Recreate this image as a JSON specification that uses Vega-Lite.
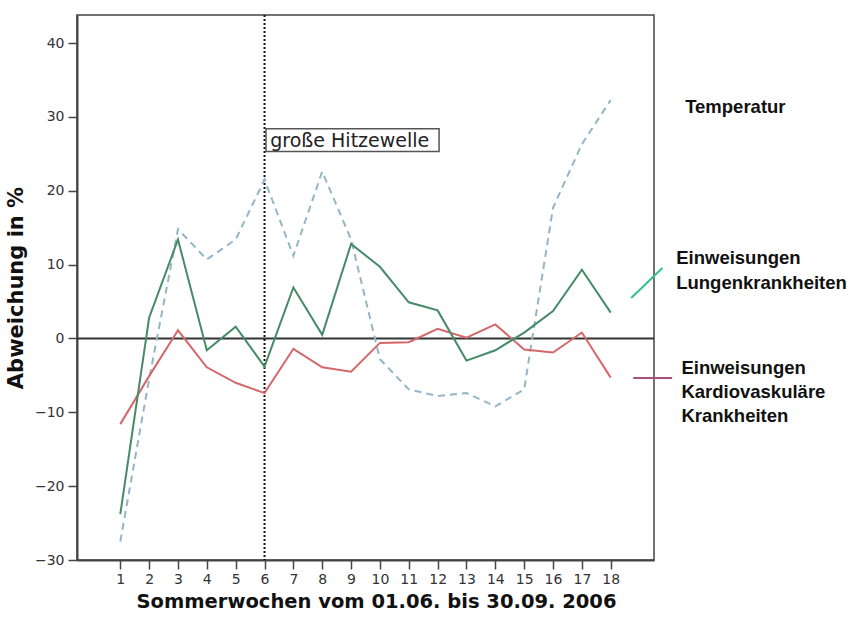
{
  "$schema": "https://vega.github.io/schema/vega-lite/v6.json",
  "width": 577,
  "height": 545,
  "autosize": "none",
  "padding": {"left": 77, "top": 15, "right": 200, "bottom": 58},
  "background": "white",
  "config": {
    "view": {"stroke": "#444", "strokeWidth": 1.5},
    "axis": {"grid": false, "labelFont": "DejaVu Sans", "labelFontSize": 14, "labelColor": "#333", "labelOverlap": false, "domainColor": "#444", "domainWidth": 2, "tickColor": "#444", "tickWidth": 1.5, "titleFont": "DejaVu Sans", "titleFontWeight": "bold", "titleColor": "#111"}
  },
  "datasets": {
    "series": [
      {"woche": 1, "serie": "Lunge", "wert": -23.8},
      {"woche": 2, "serie": "Lunge", "wert": 2.8},
      {"woche": 3, "serie": "Lunge", "wert": 13.4},
      {"woche": 4, "serie": "Lunge", "wert": -1.6},
      {"woche": 5, "serie": "Lunge", "wert": 1.6},
      {"woche": 6, "serie": "Lunge", "wert": -3.8},
      {"woche": 7, "serie": "Lunge", "wert": 6.9},
      {"woche": 8, "serie": "Lunge", "wert": 0.5},
      {"woche": 9, "serie": "Lunge", "wert": 12.8},
      {"woche": 10, "serie": "Lunge", "wert": 9.7},
      {"woche": 11, "serie": "Lunge", "wert": 4.9},
      {"woche": 12, "serie": "Lunge", "wert": 3.8},
      {"woche": 13, "serie": "Lunge", "wert": -3.0},
      {"woche": 14, "serie": "Lunge", "wert": -1.6},
      {"woche": 15, "serie": "Lunge", "wert": 0.8},
      {"woche": 16, "serie": "Lunge", "wert": 3.7},
      {"woche": 17, "serie": "Lunge", "wert": 9.3},
      {"woche": 18, "serie": "Lunge", "wert": 3.5},
      {"woche": 1, "serie": "Kardio", "wert": -11.6},
      {"woche": 2, "serie": "Kardio", "wert": -5.1},
      {"woche": 3, "serie": "Kardio", "wert": 1.1},
      {"woche": 4, "serie": "Kardio", "wert": -3.9},
      {"woche": 5, "serie": "Kardio", "wert": -6.0},
      {"woche": 6, "serie": "Kardio", "wert": -7.4},
      {"woche": 7, "serie": "Kardio", "wert": -1.4},
      {"woche": 8, "serie": "Kardio", "wert": -3.9},
      {"woche": 9, "serie": "Kardio", "wert": -4.5},
      {"woche": 10, "serie": "Kardio", "wert": -0.6},
      {"woche": 11, "serie": "Kardio", "wert": -0.5},
      {"woche": 12, "serie": "Kardio", "wert": 1.3},
      {"woche": 13, "serie": "Kardio", "wert": 0.1},
      {"woche": 14, "serie": "Kardio", "wert": 1.9},
      {"woche": 15, "serie": "Kardio", "wert": -1.5},
      {"woche": 16, "serie": "Kardio", "wert": -1.9},
      {"woche": 17, "serie": "Kardio", "wert": 0.8},
      {"woche": 18, "serie": "Kardio", "wert": -5.3},
      {"woche": 1, "serie": "Temperatur", "wert": -27.5},
      {"woche": 2, "serie": "Temperatur", "wert": -5.5},
      {"woche": 3, "serie": "Temperatur", "wert": 14.8},
      {"woche": 4, "serie": "Temperatur", "wert": 10.7},
      {"woche": 5, "serie": "Temperatur", "wert": 13.4},
      {"woche": 6, "serie": "Temperatur", "wert": 21.5},
      {"woche": 7, "serie": "Temperatur", "wert": 11.2},
      {"woche": 8, "serie": "Temperatur", "wert": 22.6},
      {"woche": 9, "serie": "Temperatur", "wert": 13.4},
      {"woche": 10, "serie": "Temperatur", "wert": -2.8},
      {"woche": 11, "serie": "Temperatur", "wert": -6.9},
      {"woche": 12, "serie": "Temperatur", "wert": -7.8},
      {"woche": 13, "serie": "Temperatur", "wert": -7.4},
      {"woche": 14, "serie": "Temperatur", "wert": -9.2},
      {"woche": 15, "serie": "Temperatur", "wert": -6.9},
      {"woche": 16, "serie": "Temperatur", "wert": 17.7},
      {"woche": 17, "serie": "Temperatur", "wert": 26.3},
      {"woche": 18, "serie": "Temperatur", "wert": 32.3}
    ],
    "labels": [
      {"x": 20.58, "y": 31.4, "text": "Temperatur"},
      {"x": 20.27, "y": 10.9, "text": "Einweisungen"},
      {"x": 20.27, "y": 7.5, "text": "Lungenkrankheiten"},
      {"x": 20.45, "y": -4.0, "text": "Einweisungen"},
      {"x": 20.45, "y": -7.25, "text": "Kardiovaskuläre"},
      {"x": 20.45, "y": -10.5, "text": "Krankheiten"}
    ],
    "keyLines": [
      {"x": 18.71, "y": 5.47, "x2": 19.79, "y2": 9.53, "key": "Lunge"},
      {"x": 18.78, "y": -5.36, "x2": 20.13, "y2": -5.36, "key": "Kardio"}
    ]
  },
  "layer": [
    {
      "data": {"values": [{"y": 0}]},
      "mark": {"type": "rule", "color": "#333", "strokeWidth": 2},
      "encoding": {"y": {"field": "y", "type": "quantitative", "scale": {"domain": [-30, 43.8], "nice": false, "zero": false},
          "axis": {"values": [-30,-20,-10,0,10,20,30,40], "format": "d", "tickSize": 9, "labelPadding": 4, "title": "Abweichung in %", "titleFontSize": 21, "titleX": -61, "titleBaseline": "middle"}}}
    },
    {
      "data": {"values": [{"x": 6}]},
      "mark": {"type": "rule", "color": "#111", "strokeWidth": 2, "strokeDash": [2, 2]},
      "encoding": {"x": {"field": "x", "type": "quantitative", "scale": {"domain": [-0.5, 19.5], "nice": false, "zero": false},
          "axis": {"values": [1,2,3,4,5,6,7,8,9,10,11,12,13,14,15,16,17,18], "tickCount": 40, "format": "d", "labelOverlap": false, "tickSize": 9, "labelPadding": 3, "title": "Sommerwochen vom 01.06. bis 30.09. 2006", "titlePadding": 6, "titleX": 299, "titleFontSize": 19.5}}}
    },
    {
      "data": {"name": "series"},
      "transform": [{"filter": "datum.serie === 'Temperatur'"}],
      "mark": {"type": "line", "color": "#93b6c6", "strokeWidth": 2, "strokeDash": [7, 5]},
      "encoding": {
        "x": {"field": "woche", "type": "quantitative"},
        "y": {"field": "wert", "type": "quantitative"}
      }
    },
    {
      "data": {"name": "series"},
      "transform": [{"filter": "datum.serie === 'Kardio'"}],
      "mark": {"type": "line", "color": "#d4676a", "strokeWidth": 2},
      "encoding": {
        "x": {"field": "woche", "type": "quantitative"},
        "y": {"field": "wert", "type": "quantitative"}
      }
    },
    {
      "data": {"name": "series"},
      "transform": [{"filter": "datum.serie === 'Lunge'"}],
      "mark": {"type": "line", "color": "#468a6a", "strokeWidth": 2},
      "encoding": {
        "x": {"field": "woche", "type": "quantitative"},
        "y": {"field": "wert", "type": "quantitative"}
      }
    },
    {
      "data": {"values": [{"x": 6.05, "x2": 12.05, "y": 25.3, "y2": 28.4}]},
      "mark": {"type": "rect", "fill": "white", "stroke": "#555", "strokeWidth": 1.5},
      "encoding": {
        "x": {"field": "x", "type": "quantitative"},
        "x2": {"field": "x2"},
        "y": {"field": "y", "type": "quantitative"},
        "y2": {"field": "y2"}
      }
    },
    {
      "data": {"values": [{"x": 6.2, "y": 26.8, "text": "große Hitzewelle"}]},
      "mark": {"type": "text", "align": "left", "baseline": "middle", "font": "DejaVu Sans", "fontSize": 19, "color": "#222"},
      "encoding": {
        "x": {"field": "x", "type": "quantitative"},
        "y": {"field": "y", "type": "quantitative"},
        "text": {"field": "text"}
      }
    },
    {
      "data": {"name": "labels"},
      "mark": {"type": "text", "align": "left", "baseline": "middle", "font": "Liberation Sans", "fontWeight": "bold", "fontSize": 18.5, "color": "#111"},
      "encoding": {
        "x": {"field": "x", "type": "quantitative"},
        "y": {"field": "y", "type": "quantitative"},
        "text": {"field": "text"}
      }
    },
    {
      "data": {"name": "keyLines"},
      "mark": {"type": "rule", "strokeWidth": 2},
      "encoding": {
        "x": {"field": "x", "type": "quantitative"},
        "y": {"field": "y", "type": "quantitative"},
        "x2": {"field": "x2"},
        "y2": {"field": "y2"},
        "color": {"field": "key", "type": "nominal", "scale": {"domain": ["Lunge", "Kardio"], "range": ["#2fc487", "#a8507e"]}, "legend": null}
      }
    }
  ]
}
